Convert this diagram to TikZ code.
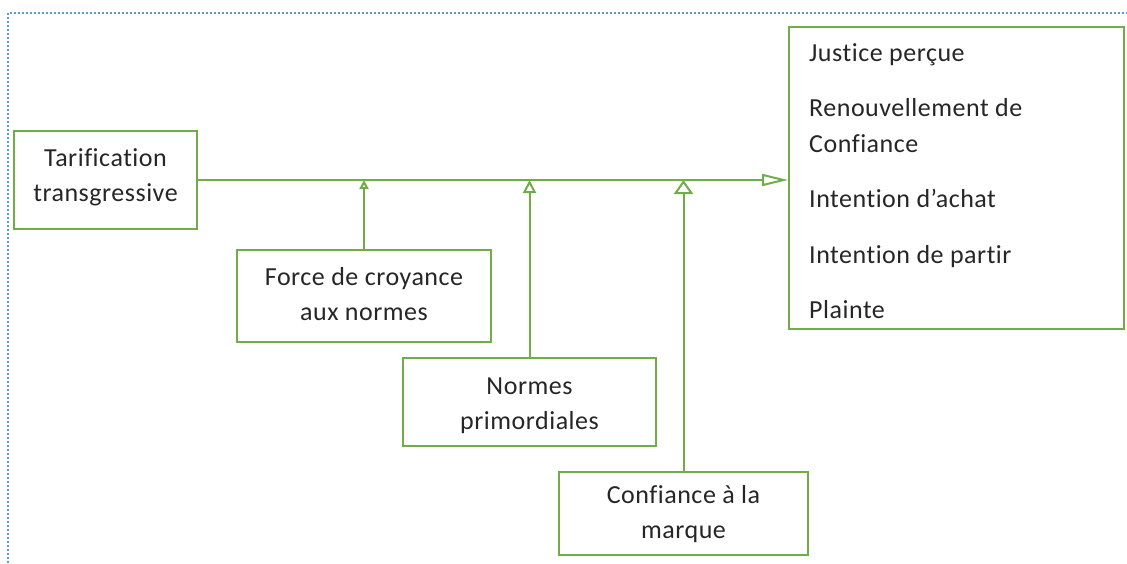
\documentclass[tikz,border=0pt]{standalone}
\usepackage{fontspec}
\setmainfont[Ligatures=NoCommon, LetterSpace=2]{Carlito}
\usetikzlibrary{arrows.meta}
\definecolor{boxgreen}{HTML}{70AD47}
\definecolor{dotblue}{HTML}{5B9BD5}
\definecolor{txt}{HTML}{262626}
\tikzset{
  box/.style={draw=boxgreen, line width=2pt, fill=white, inner sep=0pt},
  ctext/.style={inner sep=0pt, align=center, text=txt, font=\fontsize{26}{35}\selectfont},
  lbl/.style={inner sep=0pt, anchor=west, align=left, text=txt, font=\fontsize{26}{36}\selectfont},
  conn/.style={draw=boxgreen, line width=2pt},
}
\begin{document}
\begin{tikzpicture}[x=1pt,y=-1pt]
\useasboundingbox (0,0) rectangle (1127,563);
\draw[dotblue, line width=2pt, dash pattern=on 2pt off 2pt] (8,563) -- (8,13) -- (1127,13);
\node[box, minimum width=183pt, minimum height=98pt] (tar) at (105.5,180) {};
\node[ctext] (tart) at (105.5,177) {Tarification\\transgressive};
\node[box, minimum width=335pt, minimum height=302pt] (res) at (956.5,178) {};
\node[box, minimum width=254pt, minimum height=92pt] (force) at (364,296) {};
\node[ctext] (forcet) at (364,294) {Force de croyance\\aux normes};
\node[box, minimum width=253pt, minimum height=88pt] (norm) at (529.5,402) {};
\node[ctext] (normt) at (529.5,406) {Normes\\primordiales};
\node[box, minimum width=249pt, minimum height=83pt] (conf) at (683.5,513.5) {};
\node[ctext] (conft) at (683.5,514.5) {Confiance à la\\marque};
\node[lbl] (l1) at (809,55) {Justice perçue};
\node[lbl] (l2) at (809,126) {Renouvellement de\\Confiance};
\node[lbl] (l3) at (809,198) {Intention d’achat};
\node[lbl] (l4) at (809,257) {Intention de partir};
\node[lbl] (l5) at (809,310) {Plainte};
\coordinate (end) at (tar.east -| res.west);
\draw[conn, -{Triangle[open, length=26pt, width=12pt, line width=2pt]}] (tar.east) -- (end);
\draw[conn, -{Triangle[open, length=9pt, width=9pt, line width=2pt]}] (force.north) -- (force.north |- tar.east);
\draw[conn, -{Triangle[open, length=13pt, width=13pt, line width=2pt]}] (norm.north) -- (norm.north |- tar.east);
\draw[conn, -{Triangle[open, length=14pt, width=19pt, line width=2pt]}] (conf.north) -- (conf.north |- tar.east);
\end{tikzpicture}
\end{document}
